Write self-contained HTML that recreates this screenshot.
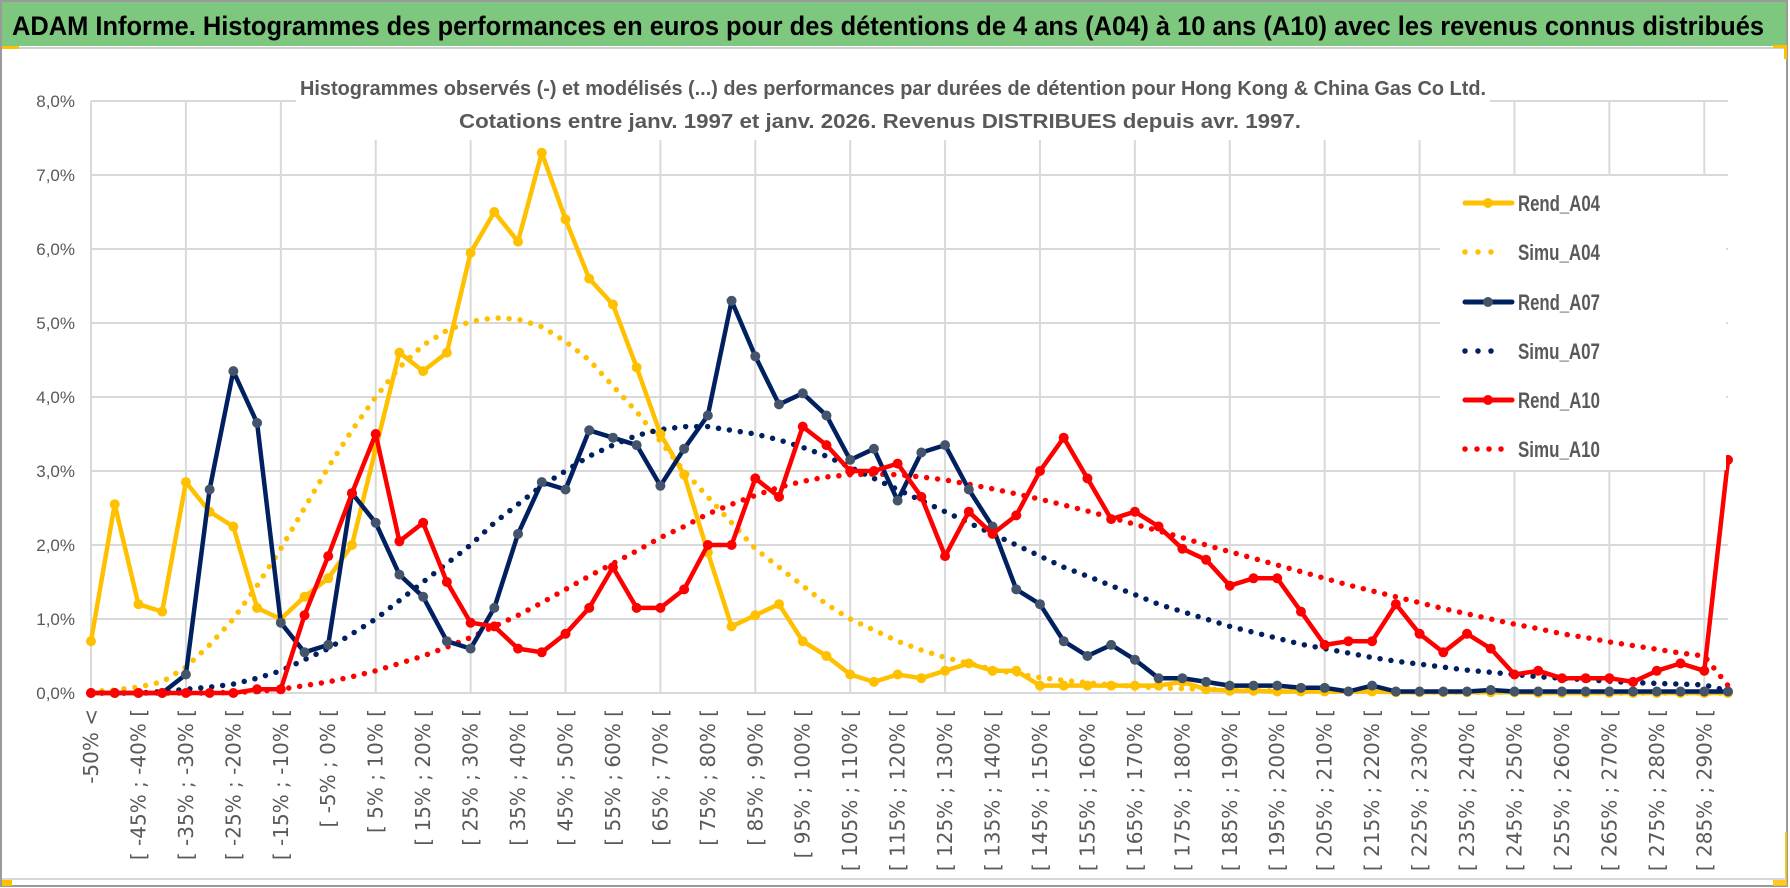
<!DOCTYPE html>
<html><head><meta charset="utf-8"><style>
html,body{margin:0;padding:0;background:#fff;}
svg{display:block;}
</style></head><body>
<svg id="chart" width="1790" height="888" xmlns="http://www.w3.org/2000/svg">
<rect x="0" y="0" width="1790" height="888" fill="#ffffff"/>
<rect x="1" y="1" width="1786" height="885" fill="#ffffff" stroke="#9a9a9a" stroke-width="2"/>
<rect x="2" y="2" width="1784" height="44" fill="#7ec77f"/>
<line x1="2" y1="48" x2="1786" y2="48" stroke="#d0d0d0" stroke-width="2"/>
<rect x="2" y="46" width="17" height="3" fill="#ffc000"/>
<rect x="1773" y="45" width="14" height="3" fill="#ffc000"/>
<rect x="1784" y="45" width="3" height="14" fill="#ffc000"/>
<rect x="2" y="880" width="10" height="6" fill="#ffc000"/>
<rect x="1773" y="832" width="14" height="54" fill="#ffc000" opacity="0.85"/>
<rect x="1773" y="832" width="12" height="46" fill="#ffffff"/>
<line x1="2" y1="879" x2="1786" y2="879" stroke="#d8d8d8" stroke-width="2"/>
<text x="12" y="35" font-family="'Liberation Sans Narrow','Liberation Sans',sans-serif" font-weight="bold" font-size="27" fill="#000" textLength="1752" lengthAdjust="spacingAndGlyphs">ADAM Informe. Histogrammes des performances en euros pour des détentions de 4 ans (A04) à 10 ans (A10) avec les revenus connus distribués</text>
<g id="grid"></g>
<rect x="296" y="58" width="1194" height="82" fill="#ffffff"/>
<text x="893" y="95" text-anchor="middle" font-family="'Liberation Sans Narrow','Liberation Sans',sans-serif" font-weight="bold" font-size="20" fill="#595959" textLength="1186" lengthAdjust="spacingAndGlyphs">Histogrammes observés (-) et modélisés (...) des performances par durées de détention pour Hong Kong &amp; China Gas Co Ltd.</text>
<text x="880" y="128" text-anchor="middle" font-family="'Liberation Sans Narrow','Liberation Sans',sans-serif" font-weight="bold" font-size="20" fill="#595959" textLength="842" lengthAdjust="spacingAndGlyphs">Cotations entre janv. 1997 et janv. 2026. Revenus DISTRIBUES depuis avr. 1997.</text>
<g id="ylabels"></g>
<g id="xlabels"></g>
<g id="series"></g>
<g id="legend"></g>
</svg>
<script>
const yTicks = [0,1,2,3,4,5,6,7,8];
const rendA04 = [0.7,2.55,1.2,1.1,2.85,2.45,2.25,1.15,1.0,1.3,1.55,2.0,3.3,4.6,4.35,4.6,5.95,6.5,6.1,7.3,6.4,5.6,5.25,4.4,3.5,2.95,1.9,0.9,1.05,1.2,0.7,0.5,0.25,0.15,0.25,0.2,0.3,0.4,0.3,0.3,0.1,0.1,0.1,0.1,0.1,0.1,0.15,0.05,0.03,0.03,0.02,0.02,0.02,0.02,0.02,0.01,0.01,0.01,0.01,0.01,0.01,0,0,0,0,0,0,0,0,0];
const rendA07 = [0,0,0,0,0.25,2.75,4.35,3.65,0.95,0.55,0.65,2.7,2.3,1.6,1.3,0.7,0.6,1.15,2.15,2.85,2.75,3.55,3.45,3.35,2.8,3.3,3.75,5.3,4.55,3.9,4.05,3.75,3.15,3.3,2.6,3.25,3.35,2.75,2.25,1.4,1.2,0.7,0.5,0.65,0.45,0.2,0.2,0.15,0.1,0.1,0.1,0.07,0.07,0.02,0.1,0.02,0.02,0.02,0.02,0.04,0.02,0.02,0.02,0.02,0.02,0.02,0.02,0.02,0.02,0.02];
const rendA10 = [0,0,0,0,0,0,0,0.05,0.05,1.05,1.85,2.7,3.5,2.05,2.3,1.5,0.95,0.9,0.6,0.55,0.8,1.15,1.7,1.15,1.15,1.4,2.0,2.0,2.9,2.65,3.6,3.35,3.0,3.0,3.1,2.65,1.85,2.45,2.15,2.4,3.0,3.45,2.9,2.35,2.45,2.25,1.95,1.8,1.45,1.55,1.55,1.1,0.65,0.7,0.7,1.2,0.8,0.55,0.8,0.6,0.25,0.3,0.2,0.2,0.2,0.15,0.3,0.4,0.3,3.15];
const simuA04 = [0.02,0.04,0.08,0.15,0.35,0.65,1.0,1.45,1.95,2.5,3.05,3.55,4.0,4.4,4.7,4.9,5.02,5.07,5.05,4.95,4.75,4.5,4.15,3.8,3.4,3.0,2.65,2.3,1.95,1.7,1.45,1.2,1.0,0.85,0.7,0.58,0.48,0.4,0.32,0.26,0.21,0.17,0.14,0.11,0.09,0.07,0.06,0.05,0.04,0.04,0.03,0.03,0.02,0.02,0.02,0.02,0.01,0.01,0.01,0.01,0.01,0.01,0.01,0.01,0,0,0,0,0,0];
const simuA07 = [0,0,0,0.02,0.05,0.08,0.12,0.2,0.3,0.45,0.6,0.8,1.0,1.25,1.5,1.75,2.0,2.3,2.55,2.8,3.0,3.2,3.35,3.48,3.56,3.6,3.6,3.55,3.5,3.42,3.32,3.2,3.05,2.9,2.75,2.6,2.45,2.3,2.15,2.0,1.85,1.7,1.58,1.45,1.33,1.2,1.1,1.0,0.9,0.82,0.74,0.66,0.6,0.54,0.48,0.43,0.39,0.35,0.31,0.28,0.25,0.22,0.2,0.18,0.16,0.14,0.13,0.12,0.11,0.03];
const simuA10 = [0,0,0,0,0,0,0.01,0.02,0.05,0.1,0.15,0.22,0.3,0.4,0.5,0.62,0.75,0.9,1.05,1.22,1.4,1.58,1.75,1.92,2.1,2.25,2.42,2.55,2.67,2.78,2.86,2.92,2.95,2.96,2.95,2.92,2.88,2.82,2.76,2.69,2.62,2.54,2.46,2.37,2.28,2.19,2.1,2.0,1.91,1.82,1.73,1.64,1.55,1.46,1.38,1.3,1.22,1.14,1.07,1.0,0.93,0.87,0.8,0.75,0.69,0.64,0.59,0.54,0.5,0.1];

const NS='http://www.w3.org/2000/svg';
const N = rendA04.length;
const X0=91, X1=1728, Y0=693, Y8=101;
function xS(i){return X0 + i*(X1-X0)/(N-1);}
function yS(v){return Y0 - v*(Y0-Y8)/8;}
function catLabel(i){
  if(i===0) return '-50% <';
  const lo=-50+5*(i-1), hi=lo+5;
  return '[ '+lo+'% ; '+hi+'% [';
}
function mk(tag,attrs,parent){const e=document.createElementNS(NS,tag);for(const k in attrs)e.setAttribute(k,attrs[k]);parent.appendChild(e);return e;}

const grid=document.getElementById('grid');
yTicks.forEach(t=>{
  const l=mk('line',{x1:X0,x2:X1,y1:yS(t),y2:yS(t),stroke:'#d9d9d9','stroke-width':2},grid);
  
  
});
for(let i=0;i<N;i+=4){
  const l=mk('line',{x1:xS(i),x2:xS(i),y1:Y8,y2:Y0,stroke:'#d9d9d9','stroke-width':2},grid);
  
  
}
const yl=document.getElementById('ylabels');
yTicks.forEach(t=>{
  const tx=mk('text',{x:75,y:yS(t)+6,'text-anchor':'end','font-family':"'Liberation Sans Narrow','Liberation Sans',sans-serif",'font-size':17,fill:'#595959'},yl);
  tx.textContent=t.toFixed(1).replace('.',',')+'%';
  
  
});
const xl=document.getElementById('xlabels');
for(let i=0;i<N;i+=2){
  const x=xS(i)+7, y=709;
  const tx=mk('text',{x:x,y:y,transform:'rotate(-90 '+x+' '+y+')','text-anchor':'end','font-family':"'DejaVu Sans',sans-serif",'font-size':20,fill:'#595959'},xl);
  tx.textContent=catLabel(i);
  
  
}
const sg=document.getElementById('series');
function pts(arr){return arr.map((v,i)=>xS(i).toFixed(1)+','+yS(v).toFixed(1)).join(' ');}
function dotted(arr,color,name){
  const p=mk('polyline',{points:pts(arr),fill:'none',stroke:color,'stroke-width':5.5,'stroke-linecap':'round','stroke-dasharray':'0 11'},sg);
  
  
}
function solid(arr,color,mcolor,name){
  const p=mk('polyline',{points:pts(arr),fill:'none',stroke:color,'stroke-width':4.5,'stroke-linejoin':'round'},sg);
  
  
  arr.forEach((v,i)=>{
    const c=mk('circle',{cx:xS(i),cy:yS(v),r:5,fill:mcolor},sg);
    
    
  });
}
dotted(simuA04,'#ffc000','simu-a04');
dotted(simuA07,'#002060','simu-a07');
dotted(simuA10,'#ff0000','simu-a10');
solid(rendA04,'#ffc000','#ffc000','rend-a04');
solid(rendA07,'#002060','#44546a','rend-a07');
solid(rendA10,'#ff0000','#ff0000','rend-a10');

const lg=document.getElementById('legend');
const bg=mk('rect',{x:1440,y:176,width:286,height:294,fill:'#ffffff'},lg);


const legNames=['Rend_A04','Simu_A04','Rend_A07','Simu_A07','Rend_A10','Simu_A10'];
const legColors=['#ffc000','#ffc000','#002060','#002060','#ff0000','#ff0000'];
const legMarker=['#ffc000',null,'#44546a',null,'#ff0000',null];
const legY=[203,252,302,351,400,449];
legNames.forEach((nm,k)=>{
  const g=mk('g',{},lg);
  
  
  const y=legY[k];
  if(legMarker[k]){
    mk('line',{x1:1465,x2:1512,y1:y,y2:y,stroke:legColors[k],'stroke-width':5,'stroke-linecap':'round'},g);
    mk('circle',{cx:1488,cy:y,r:5,fill:legMarker[k]},g);
  } else {
    mk('line',{x1:1465,x2:k===5?1513:1504,y1:y,y2:y,stroke:legColors[k],'stroke-width':5.5,'stroke-linecap':'round','stroke-dasharray':k===5?'0 12':'0 13'},g);
  }
  const t=mk('text',{x:1518,y:y+8,'font-family':"'Liberation Sans Narrow','Liberation Sans',sans-serif",'font-weight':'bold','font-size':22,fill:'#595959',textLength:82,lengthAdjust:'spacingAndGlyphs'},g);
  t.textContent=nm;
});
</script>
</body></html>
